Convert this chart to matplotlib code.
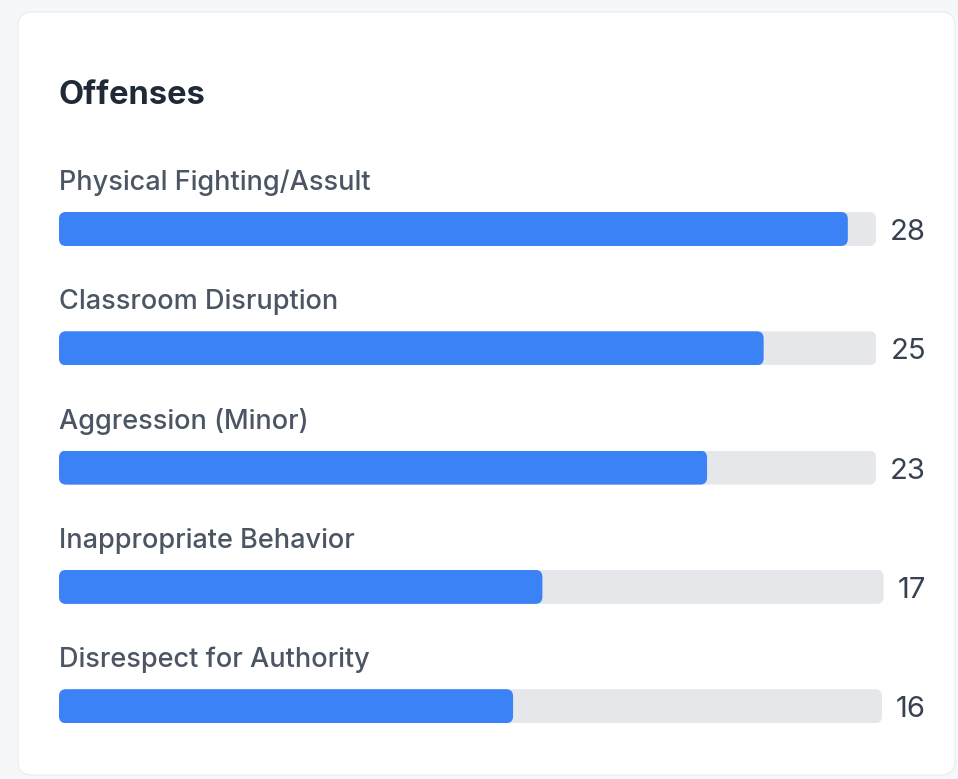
import matplotlib
matplotlib.use("Agg")
import matplotlib.pyplot as plt
from matplotlib.patches import FancyBboxPatch

# data
categories = [
    "Physical Fighting/Assult",
    "Classroom Disruption",
    "Aggression (Minor)",
    "Inappropriate Behavior",
    "Disrespect for Authority",
]
counts = [28, 25, 23, 17, 16]
scale_max = 29

W, H = 958, 779
BLUE = "#3b82f6"
TRACK = "#e5e7eb"
BAR_H = 34
ROW_STEP = 119.3
FIRST_TOP = 212
LEFT = 59
TEXT_RIGHT = 926
GAP = 14
RADIUS = 7

plt.rcParams["font.family"] = ["Inter", "DejaVu Sans"]

fig = plt.figure(figsize=(W / 100, H / 100), dpi=100)
fig.patch.set_facecolor("#f6f7f9")

bg = fig.add_axes([0, 0, 1, 1])
bg.set_xlim(0, W)
bg.set_ylim(H, 0)
bg.axis("off")

card = FancyBboxPatch((18, 12), 937, 763,
                      boxstyle="round,pad=0,rounding_size=14",
                      facecolor="white", edgecolor="#eceef1", linewidth=1)
bg.add_patch(card)
bg.text(59, 104, "Offenses", fontsize=23.5, fontweight="bold",
        color="#1f2937", va="baseline")

renderer = fig.canvas.get_renderer()

for i, (name, n) in enumerate(zip(categories, counts)):
    top = FIRST_TOP + i * ROW_STEP
    bg.text(59, top - 22, name, fontsize=19.5, fontweight="medium",
            color="#4b5563", va="baseline")
    val = bg.text(TEXT_RIGHT, top + BAR_H / 2 + 11, str(n), fontsize=21,
                  color="#374151", ha="right", va="baseline")
    tw = val.get_window_extent(renderer).width
    right = TEXT_RIGHT - tw - GAP
    wpx = right - LEFT

    ax = fig.add_axes([LEFT / W, 1 - (top + BAR_H) / H, wpx / W, BAR_H / H])
    ax.set_xlim(0, scale_max)
    ax.set_ylim(0, 1)
    ax.axis("off")

    asp = wpx / (BAR_H * scale_max)
    r = RADIUS * scale_max / wpx
    style = f"round,pad=0,rounding_size={r}"
    ax.add_patch(FancyBboxPatch((0, 0), scale_max, 1, boxstyle=style,
                                mutation_aspect=asp, facecolor=TRACK,
                                edgecolor="none"))
    ax.add_patch(FancyBboxPatch((0, 0), n, 1, boxstyle=style,
                                mutation_aspect=asp, facecolor=BLUE,
                                edgecolor="none"))

fig.savefig("out.png", dpi=100)
